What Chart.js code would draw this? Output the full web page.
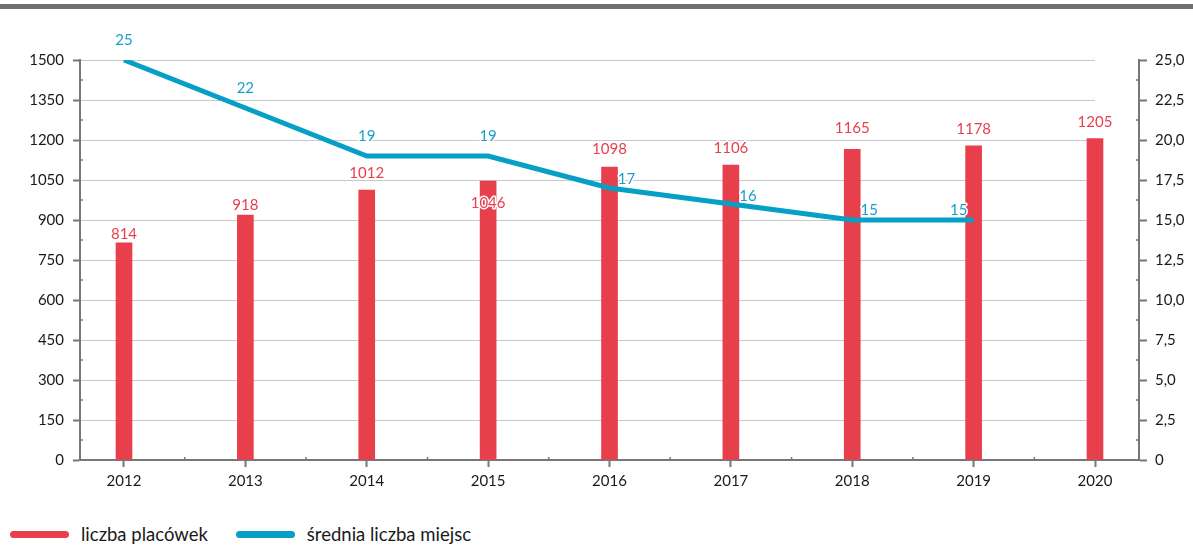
<!DOCTYPE html>
<html lang="pl">
<head>
<meta charset="UTF-8">
<title>Liczba placówek i średnia liczba miejsc</title>
<script src="https://cdn.jsdelivr.net/npm/chart.js@4"></script>
<style>
  body { margin:0; background:#fff; font-family: Lato, "Open Sans", sans-serif; }
  .wrap { position:relative; width:1193px; height:545px; overflow:hidden; }
  .topbar { position:absolute; left:0; top:4px; width:1193px; height:5px; background:#707070; }
  #chart { position:absolute; left:0; top:0; }
  .legend { position:absolute; left:10px; top:523px; display:flex; align-items:center; font-size:18.5px; color:#1a1a1a; }
  .legend .item { display:flex; align-items:center; margin-right:28px; }
  .legend .mark { display:inline-block; width:59px; height:7px; border-radius:4px; margin-right:12px; }
</style>
</head>
<body>
<div class="wrap">
  <div class="topbar"></div>
  <canvas id="chart" width="1193" height="510"></canvas>
  <div class="legend" id="legend"></div>
</div>

<script>
// dane
const years = [2012, 2013, 2014, 2015, 2016, 2017, 2018, 2019, 2020];
const placowki = [814, 918, 1012, 1046, 1098, 1106, 1165, 1178, 1205];
const srMiejsc = [25, 22, 19, 19, 17, 16, 15, 15, null];
const leftTicks = [0, 150, 300, 450, 600, 750, 900, 1050, 1200, 1350, 1500];
const rightTicks = [0, 2.5, 5, 7.5, 10, 12.5, 15, 17.5, 20, 22.5, 25];

const RED = '#e83f4d';
const TEAL = '#069fc6';
const AXIS = '#777';

// przesuniecia etykiet (px)
const barLabelShift = [-9, -10, -17, 22, -18, -17, -21, -17, -17];
const lineLabelShift = [[0,-20],[0,-20],[0,-20],[0,-20],[17,-9],[17,-8],[17,-10],[-15,-10]];

const gridPlugin = {
  id: 'gridToLast',
  beforeDatasetsDraw(chart) {
    const {ctx, chartArea, scales} = chart;
    const xEnd = scales.x.getPixelForValue(years[years.length - 1]);
    ctx.save();
    ctx.strokeStyle = '#c8c8c8';
    ctx.lineWidth = 1;
    scales.y.ticks.forEach(t => {
      if (t.value === 0) return;
      const y = Math.round(scales.y.getPixelForValue(t.value)) + 0.5;
      ctx.beginPath();
      ctx.moveTo(chartArea.left + 1, y);
      ctx.lineTo(xEnd, y);
      ctx.stroke();
    });
    ctx.restore();
  },
  afterDraw(chart) {
    // male kreski posrednie
    const {ctx, chartArea, scales} = chart;
    ctx.save();
    ctx.strokeStyle = AXIS;
    ctx.lineWidth = 1.5;
    for (let i = 0; i < leftTicks.length - 1; i++) {
      const y = scales.y.getPixelForValue((leftTicks[i] + leftTicks[i+1]) / 2);
      ctx.beginPath(); ctx.moveTo(chartArea.left, y); ctx.lineTo(chartArea.left + 3, y); ctx.stroke();
      const y2 = scales.y2.getPixelForValue((rightTicks[i] + rightTicks[i+1]) / 2);
      ctx.beginPath(); ctx.moveTo(chartArea.right - 3, y2); ctx.lineTo(chartArea.right, y2); ctx.stroke();
    }
    for (let i = 0; i < years.length - 1; i++) {
      const x = scales.x.getPixelForValue((years[i] + years[i+1]) / 2);
      ctx.beginPath(); ctx.moveTo(x, chartArea.bottom); ctx.lineTo(x, chartArea.bottom - 3); ctx.stroke();
    }
    ctx.restore();
  }
};

const labelPlugin = {
  id: 'valueLabels',
  afterDatasetsDraw(chart) {
    const ctx = chart.ctx;
    ctx.save();
    ctx.font = '15px Lato, sans-serif';
    ctx.textAlign = 'center';
    ctx.textBaseline = 'middle';
    ctx.lineJoin = 'round';
    ctx.lineWidth = 3;
    ctx.strokeStyle = '#fff';
    chart.getDatasetMeta(0).data.forEach((el, i) => {
      const txt = String(placowki[i]);
      const y = el.y + barLabelShift[i];
      ctx.strokeText(txt, el.x, y);
      ctx.fillStyle = RED;
      ctx.fillText(txt, el.x, y);
    });
    chart.getDatasetMeta(1).data.forEach((el, i) => {
      if (srMiejsc[i] == null) return;
      const txt = String(srMiejsc[i]);
      const x = el.x + lineLabelShift[i][0];
      const y = el.y + lineLabelShift[i][1];
      ctx.strokeText(txt, x, y);
      ctx.fillStyle = '#1a9ec9';
      ctx.fillText(txt, x, y);
    });
    ctx.restore();
  }
};

const tickFont = { family: 'Lato, sans-serif', size: 15 };

const chart = new Chart(document.getElementById('chart'), {
  type: 'bar',
  data: {
    datasets: [
      {
        label: 'liczba placówek',
        data: years.map((y, i) => ({ x: y, y: placowki[i] })),
        backgroundColor: RED,
        barThickness: 16,
        yAxisID: 'y',
        order: 1
      },
      {
        type: 'line',
        label: 'średnia liczba miejsc',
        data: years.map((y, i) => ({ x: y, y: srMiejsc[i] })),
        borderColor: TEAL,
        backgroundColor: TEAL,
        borderWidth: 5,
        pointRadius: 0,
        tension: 0,
        spanGaps: false,
        yAxisID: 'y2',
        order: 0
      }
    ]
  },
  options: {
    responsive: false,
    animation: false,
    layout: { padding: { top: 60, left: 0, right: 0, bottom: 0 } },
    plugins: { legend: { display: false }, tooltip: { enabled: false } },
    scales: {
      x: {
        type: 'linear',
        offset: false,
        min: years[0] - 0.3625,
        max: years[years.length - 1] + 0.3625,
        afterBuildTicks: s => { s.ticks = years.map(v => ({ value: v })); },
        afterFit: s => { s.height = 50; },
        ticks: { callback: v => String(v), font: tickFont, color: '#1a1a1a', padding: 5, maxRotation: 0 },
        grid: { offset: false, drawOnChartArea: false, drawTicks: true, tickLength: 7, tickColor: AXIS, tickWidth: 2 },
        border: { display: true, color: AXIS, width: 2 }
      },
      y: {
        position: 'left',
        min: 0, max: 1500,
        afterBuildTicks: s => { s.ticks = leftTicks.map(v => ({ value: v })); },
        afterFit: s => { s.width = 80; },
        ticks: { callback: v => String(v), font: tickFont, color: '#1a1a1a', padding: 9 },
        grid: { drawOnChartArea: false, tickLength: 7, tickColor: AXIS, tickWidth: 2 },
        border: { display: true, color: AXIS, width: 2 }
      },
      y2: {
        position: 'right',
        min: 0, max: 25,
        afterBuildTicks: s => { s.ticks = rightTicks.map(v => ({ value: v })); },
        afterFit: s => { s.width = 54; },
        ticks: { callback: v => v === 0 ? '0' : v.toFixed(1).replace('.', ','), font: tickFont, color: '#1a1a1a', padding: 8 },
        grid: { drawOnChartArea: false, tickLength: 8, tickColor: AXIS, tickWidth: 2 },
        border: { display: true, color: AXIS, width: 2 }
      }
    }
  },
  plugins: [gridPlugin, labelPlugin]
});

// legenda
const leg = document.getElementById('legend');
chart.data.datasets.forEach(ds => {
  const item = document.createElement('div');
  item.className = 'item';
  const color = ds.type === 'line' ? ds.borderColor : ds.backgroundColor;
  item.innerHTML = `<span class="mark" style="background:${color}"></span><span>${ds.label}</span>`;
  leg.appendChild(item);
});
</script>
</body>
</html>
